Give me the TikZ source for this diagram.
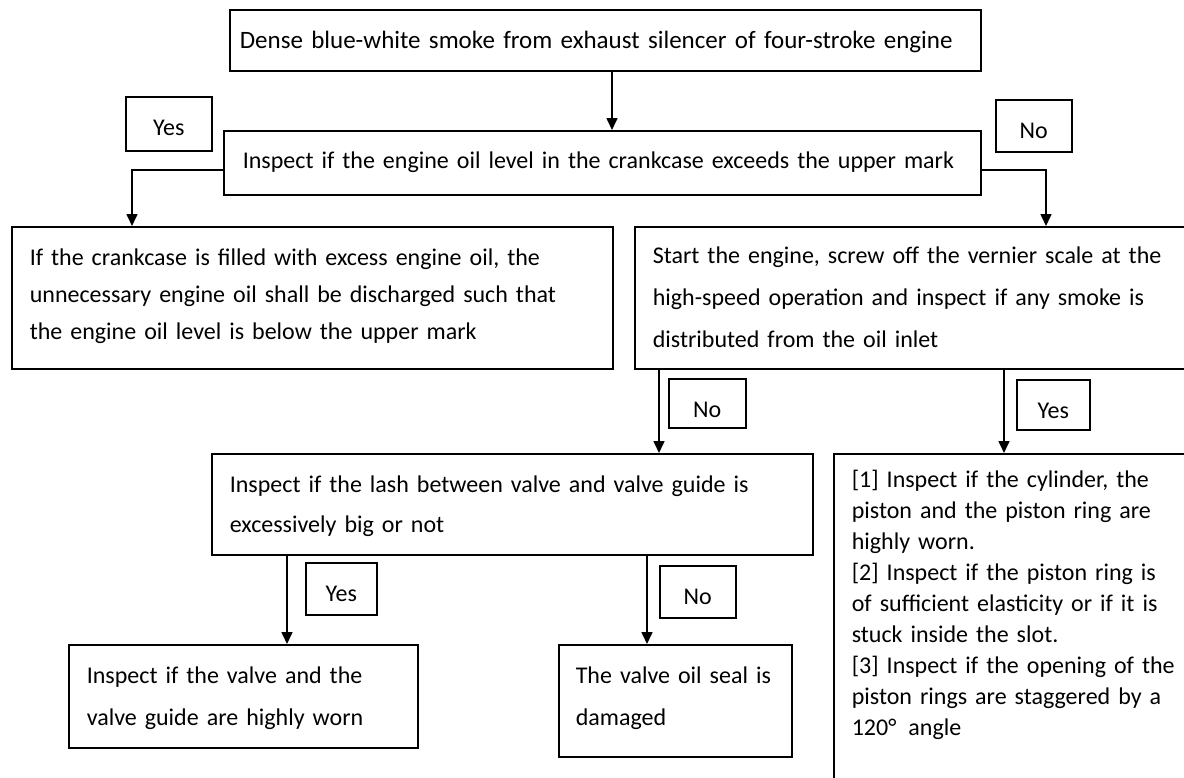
\documentclass[tikz,border=0pt]{standalone}
\usepackage{fontspec}
\setmainfont{Carlito}
\usetikzlibrary{arrows.meta}

\begin{document}
\begin{tikzpicture}[x=1pt,y=-1pt,line width=1.6pt,
	box/.style={draw,anchor=north west,align=left,inner xsep=18pt,inner ysep=0pt,font=\fontsize{24}{42}\selectfont},
	tag/.style={draw,anchor=north west,inner sep=0pt,text height=39pt,font=\fontsize{24}{28}\selectfont},
	arr/.style={-{Triangle[width=11pt,length=12pt]}}]
		\useasboundingbox (0,0) rectangle (1184,777);
		\clip (0,0) rectangle (1184,777);

		\node[box,inner xsep=10pt,text width=731pt,text height=39pt,text depth=22pt,font=\fontsize{25}{42}\selectfont] (smoke) at (229,9) {Dense blue-white smoke from exhaust silencer of four-stroke engine};
		\node[box,inner xsep=19pt,text width=719pt,text height=38pt,text depth=26pt] (level) at (223,130) {Inspect if the engine oil level in the crankcase exceeds the upper mark};
		\node[box,text width=565pt,text height=39pt,text depth=103pt,font=\fontsize{24}{37}\selectfont] (excess) at (11,226) {If the crankcase is filled with excess engine oil, the\\unnecessary engine oil shall be discharged such that\\the engine oil level is below the upper mark};
		\node[box,text width=590pt,text height=37pt,text depth=105pt] (start) at (634,226) {Start the engine, screw off the vernier scale at the\\high-speed operation and inspect if any smoke is\\distributed from the oil inlet};
		\node[box,text width=565pt,text height=39pt,text depth=62pt,font=\fontsize{24}{40}\selectfont] (lash) at (211,453) {Inspect if the lash between valve and valve guide is\\excessively big or not};
		\node[box,text width=391pt,text height=34pt,text depth=500pt,font=\fontsize{24}{31}\selectfont] (piston) at (833,453) {[1] Inspect if the cylinder, the\\piston and the piston ring are\\highly worn.\\{[2]} Inspect if the piston ring is\\of sufficient elasticity or if it is\\stuck inside the slot.\\{[3]} Inspect if the opening of the\\piston rings are staggered by a\\120°\hspace{12pt}angle};
		\node[box,text width=313pt,text height=39pt,text depth=64pt] (worn) at (68,644) {Inspect if the valve and the\\valve guide are highly worn};
		\node[box,inner xsep=17pt,text width=199pt,text height=39pt,text depth=73pt] (seal) at (558,644) {The valve oil seal is\\damaged};

		\node[tag,minimum width=86pt,text depth=15pt] (yesA) at (125,96) {Yes};
		\node[tag,minimum width=76pt,text depth=13pt] (noA) at (995,99) {No};
		\node[tag,minimum width=77pt,text depth=10pt] (noB) at (668,378) {No};
		\node[tag,minimum width=73pt,text depth=11pt] (yesB) at (1016,379) {Yes};
		\node[tag,minimum width=71pt,text depth=13pt] (yesC) at (305,562) {Yes};
		\node[tag,minimum width=76pt,text depth=13pt] (noC) at (659,565) {No};

		\coordinate (c1) at (612,0);
		\coordinate (c2) at (132,170);
		\coordinate (c3) at (1046,170);
		\coordinate (c4) at (659,0);
		\coordinate (c5) at (1004,0);
		\coordinate (c6) at (287,0);
		\coordinate (c7) at (647,0);

		\draw[arr] (smoke.south -| c1) -- (level.north -| c1);
		\draw[arr] (level.west |- c2) -- (c2) -- (excess.north -| c2);
		\draw[arr] (level.east |- c3) -- (c3) -- (start.north -| c3);
		\draw[arr] (start.south -| c4) -- (lash.north -| c4);
		\draw[arr] (start.south -| c5) -- (piston.north -| c5);
		\draw[arr] (lash.south -| c6) -- (worn.north -| c6);
		\draw[arr] (lash.south -| c7) -- (seal.north -| c7);
	\end{tikzpicture}
\end{document}
